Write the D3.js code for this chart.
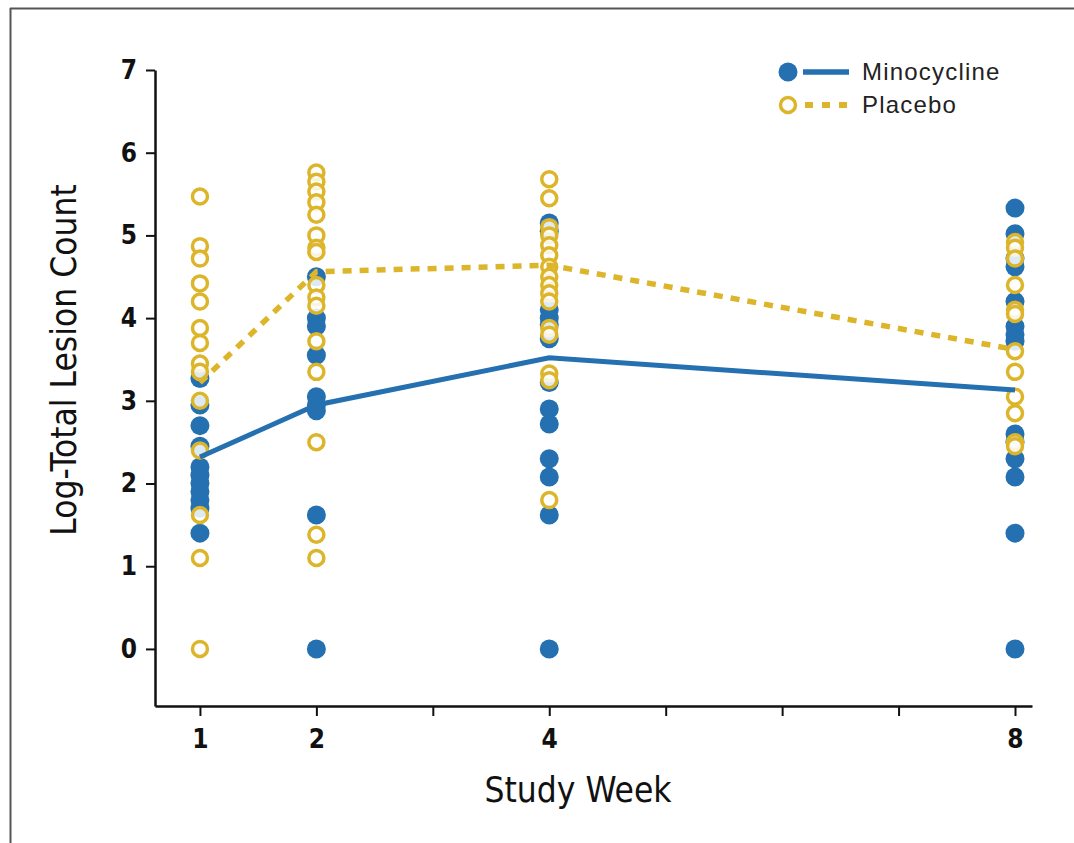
<!DOCTYPE html>
<html>
<head>
<meta charset="utf-8">
<script src="https://cdn.jsdelivr.net/npm/d3@7"></script>
<style>
html,body{margin:0;padding:0;background:#fff;}
svg{display:block;}
</style>
</head>
<body>
<svg id="chart" width="1074" height="843"></svg>
<script>
// ---- data ----
const weeks = [1, 2, 4, 8];
const xTickValues = [1, 2, 3, 4, 5, 6, 7, 8];
const xTickLabels = ["1", "2", "", "4", "", "", "", "8"];
const yTickValues = [0, 1, 2, 3, 4, 5, 6, 7];

const minoWeek1 = [3.27, 2.95, 2.7, 2.45, 2.2, 2.1, 2.0, 1.9, 1.8, 1.7, 1.4];
const minoWeek2 = [4.5, 4.0, 3.9, 3.55, 3.05, 2.95, 2.88, 1.62, 0];
const minoWeek4 = [5.15, 5.05, 4.1, 4.0, 3.92, 3.75, 3.22, 2.9, 2.72, 2.3, 2.08, 1.62, 0];
const minoWeek8 = [5.33, 5.02, 4.72, 4.62, 4.2, 3.9, 3.8, 3.72, 2.6, 2.5, 2.3, 2.08, 1.4, 0];

const placWeek1 = [5.47, 4.87, 4.72, 4.42, 4.2, 3.88, 3.7, 3.45, 3.35, 3.0, 2.4, 1.62, 1.1, 0];
const placWeek2 = [5.76, 5.65, 5.53, 5.4, 5.25, 5.0, 4.85, 4.8, 4.4, 4.25, 4.15, 3.72, 3.35, 2.5, 1.38, 1.1];
const placWeek4 = [5.68, 5.45, 5.1, 5.0, 4.88, 4.76, 4.62, 4.5, 4.4, 4.3, 4.2, 3.88, 3.8, 3.33, 3.25, 1.8];
const placWeek8 = [4.92, 4.85, 4.72, 4.4, 4.1, 4.05, 3.6, 3.35, 3.05, 2.85, 2.5, 2.45];

const minoMeans = [2.32, 2.95, 3.52, 3.13];
const placMeans = [3.22, 4.56, 4.64, 3.62];

const seriesNames = ["Minocycline", "Placebo"];

// ---- drawing ----
const blue = "#2470b0";
const gold = "#ddb52b";
const svg = d3.select("#chart");

// frame
svg.append("line").attr("x1", 10).attr("x2", 1074).attr("y1", 8.5).attr("y2", 8.5)
  .attr("stroke", "#555").attr("stroke-width", 2);
svg.append("line").attr("x1", 10.5).attr("x2", 10.5).attr("y1", 8).attr("y2", 843)
  .attr("stroke", "#555").attr("stroke-width", 2);

const x = d3.scaleLinear().domain([0.614, 8.146]).range([155, 1032]);
const y = d3.scaleLinear().domain([-0.69, 7]).range([706, 70]);

const fontAxis = "'Liberation Sans Narrow','DejaVu Sans Condensed','Liberation Sans',Arial,sans-serif";

// y axis
const yAxis = svg.append("g").attr("transform", "translate(155,0)")
  .call(d3.axisLeft(y).tickValues(yTickValues).tickSize(9).tickSizeOuter(0).tickPadding(9));
yAxis.select(".domain").attr("stroke", "#111").attr("stroke-width", 2.5);
yAxis.selectAll(".tick line").attr("stroke", "#111").attr("stroke-width", 2);
yAxis.selectAll(".tick text").attr("font-family", fontAxis).attr("font-size", 26)
  .attr("font-weight", "bold").attr("fill", "#111");

// x axis
const xAxis = svg.append("g").attr("transform", "translate(0,706)")
  .call(d3.axisBottom(x).tickValues(xTickValues).tickSize(10).tickSizeOuter(0).tickPadding(14)
    .tickFormat((d, i) => xTickLabels[i]));
xAxis.select(".domain").attr("stroke", "#111").attr("stroke-width", 2.5);
xAxis.selectAll(".tick line").attr("stroke", "#111").attr("stroke-width", 2);
xAxis.selectAll(".tick text").attr("font-family", fontAxis).attr("font-size", 26)
  .attr("font-weight", "bold").attr("fill", "#111");

// axis titles
svg.append("text").attr("x", 578).attr("y", 802).attr("text-anchor", "middle")
  .attr("font-family", fontAxis).attr("font-size", 35).attr("fill", "#111").text("Study Week");
svg.append("text").attr("transform", "translate(76,360) rotate(-90)").attr("text-anchor", "middle")
  .attr("font-family", fontAxis).attr("font-size", 35).attr("fill", "#111").text("Log-Total Lesion Count");

// points
const minoPts = [];
[minoWeek1, minoWeek2, minoWeek4, minoWeek8].forEach((arr, i) => arr.forEach(v => minoPts.push({w: weeks[i], v})));
const placPts = [];
[placWeek1, placWeek2, placWeek4, placWeek8].forEach((arr, i) => arr.forEach(v => placPts.push({w: weeks[i], v})));

svg.append("g").selectAll("circle").data(minoPts).join("circle")
  .attr("cx", d => x(d.w)).attr("cy", d => y(d.v)).attr("r", 9.5).attr("fill", blue);

svg.append("g").selectAll("circle").data(placPts).join("circle")
  .attr("cx", d => x(d.w)).attr("cy", d => y(d.v)).attr("r", 7.5)
  .attr("fill", "#fff").attr("fill-opacity", 0.85).attr("stroke", gold).attr("stroke-width", 3.5);

// mean lines
const line = d3.line().x((d, i) => x(weeks[i])).y(d => y(d));
svg.append("path").datum(minoMeans).attr("d", line).attr("fill", "none")
  .attr("stroke", blue).attr("stroke-width", 5);
svg.append("path").datum(placMeans).attr("d", line).attr("fill", "none")
  .attr("stroke", gold).attr("stroke-width", 5.5).attr("stroke-dasharray", "9,8");

// legend
const lg = svg.append("g");
lg.append("circle").attr("cx", 788).attr("cy", 72).attr("r", 9.5).attr("fill", blue);
lg.append("line").attr("x1", 803).attr("x2", 849).attr("y1", 72).attr("y2", 72)
  .attr("stroke", blue).attr("stroke-width", 5.5);
lg.append("circle").attr("cx", 788).attr("cy", 105).attr("r", 7.5).attr("fill", "#fff")
  .attr("stroke", gold).attr("stroke-width", 3.5);
lg.append("line").attr("x1", 805).attr("x2", 852).attr("y1", 105).attr("y2", 105)
  .attr("stroke", gold).attr("stroke-width", 6).attr("stroke-dasharray", "8,9");
lg.selectAll("text.lab").data(seriesNames).join("text").attr("class", "lab")
  .attr("x", 862).attr("y", (d, i) => 80 + i * 33)
  .attr("font-family", "'Liberation Sans',Arial,sans-serif").attr("font-size", 24)
  .attr("letter-spacing", 1.2).attr("fill", "#222")
  .text(d => d);
</script>
</body>
</html>
